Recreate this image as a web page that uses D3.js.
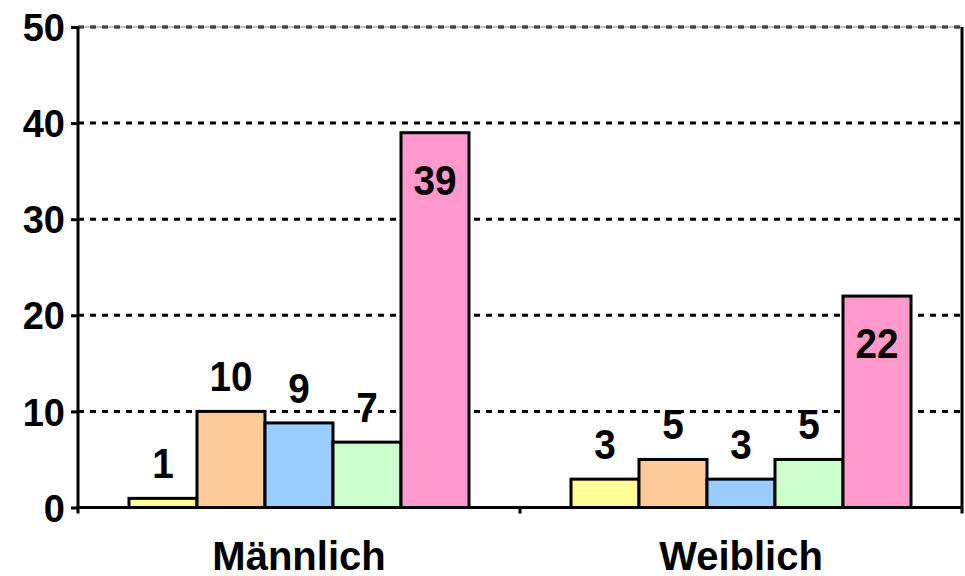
<!DOCTYPE html>
<html>
<head>
<meta charset="utf-8">
<script src="https://cdn.jsdelivr.net/npm/d3@7"></script>
<style>
body { margin: 0; background: #fff; }
text { font-family: "Liberation Sans", Arial, sans-serif; font-weight: bold; fill: #000; }
</style>
</head>
<body>
<script>
var categories = ["Männlich", "Weiblich"];
var series = ["s1", "s2", "s3", "s4", "s5"];
var colors = ["#FFFF99", "#FFCC99", "#99CCFF", "#CCFFCC", "#FF99CC"];
var maleValues = [0.95, 10, 8.8, 6.8, 39];
var femaleValues = [2.95, 5, 2.95, 5, 22];
var yTicks = [0, 10, 20, 30, 40, 50];

var svgWidth = 965, svgHeight = 576;
var margin = {top: 27, right: 3, bottom: 68.5, left: 78};
var width = svgWidth - margin.left - margin.right;
var height = svgHeight - margin.top - margin.bottom;

var data = [];
categories.forEach(function (c, i) {
  var vals = i == 0 ? maleValues : femaleValues;
  series.forEach(function (s, j) { data.push({cat: c, s: s, v: vals[j], color: colors[j]}) });
});

var svg = d3.select("body").append("svg").attr("width", svgWidth).attr("height", svgHeight);
var chart = svg.append("g").attr("transform", `translate(${margin.left}, ${margin.top})`);

var x = d3.scaleBand().domain(categories).range([0, width]).padding(0);
var xInner = d3.scaleBand().domain(series).range([0, x.bandwidth()]).paddingInner(0).paddingOuter(0.75);
var y = d3.scaleLinear().domain([0, 50]).range([height, 0]);

// gridlines
chart.selectAll(".grid").data(yTicks.filter(d => d > 0)).enter().append("line")
  .attr("x1", 0).attr("x2", width).attr("y1", d => y(d)).attr("y2", d => y(d))
  .attr("stroke", "#000").attr("stroke-width", 3).attr("stroke-dasharray", "6,6");
// top/right border
chart.append("line").attr("x1", 0).attr("x2", width).attr("y1", 0).attr("y2", 0)
  .attr("stroke", "#888").attr("stroke-width", 1);
chart.append("line").attr("x1", width).attr("x2", width).attr("y1", 0).attr("y2", height + 6)
  .attr("stroke", "#000").attr("stroke-width", 3);

// bars
chart.selectAll(".bar").data(data).enter().append("rect")
  .attr("x", d => x(d.cat) + xInner(d.s)).attr("y", d => y(d.v))
  .attr("width", xInner.bandwidth()).attr("height", d => height - y(d.v))
  .attr("fill", d => d.color).attr("stroke", "#000").attr("stroke-width", 3);

// data labels
chart.selectAll(".lbl").data(data).enter().append("text")
  .attr("text-anchor", "middle").style("font-size", "43px")
  .attr("transform", function (d) {
    var cx = x(d.cat) + xInner(d.s) + xInner.bandwidth() / 2;
    var cy = d.s == "s5" ? y(d.v) + 62 : y(d.v) - 20;
    return `translate(${cx}, ${cy}) scale(0.9, 1)`;
  })
  .text(d => d3.format(".0f")(d.v));

// y axis
var yAxis = d3.axisLeft(y).tickValues(yTicks).tickSize(7).tickPadding(6);
var gy = chart.append("g").call(yAxis);
gy.select(".domain").attr("stroke-width", 3).attr("d", `M0,0V${height + 6}`);
gy.selectAll(".tick line").attr("stroke-width", 3);
gy.selectAll(".tick text").style("font-size", "38px").attr("dy", "0.36em")
  .style("font-family", "'Liberation Sans', Arial, sans-serif").style("font-weight", "bold");

// x axis baseline
chart.append("line").attr("x1", 0).attr("x2", width).attr("y1", height).attr("y2", height)
  .attr("stroke", "#000").attr("stroke-width", 3);
chart.selectAll(".xtick").data(categories.slice(1)).enter().append("line")
  .attr("x1", d => x(d)).attr("x2", d => x(d)).attr("y1", height).attr("y2", height + 6)
  .attr("stroke", "#000").attr("stroke-width", 3);
var xAxis = d3.axisBottom(x).tickSize(0).tickPadding(0);
var gx = chart.append("g").attr("transform", `translate(0, ${height})`).call(xAxis);
gx.select(".domain").remove();
gx.selectAll(".tick text").style("font-size", "40px").attr("dy", null).attr("y", 62)
  .style("font-family", "'Liberation Sans', Arial, sans-serif").style("font-weight", "bold");
</script>
</body>
</html>
